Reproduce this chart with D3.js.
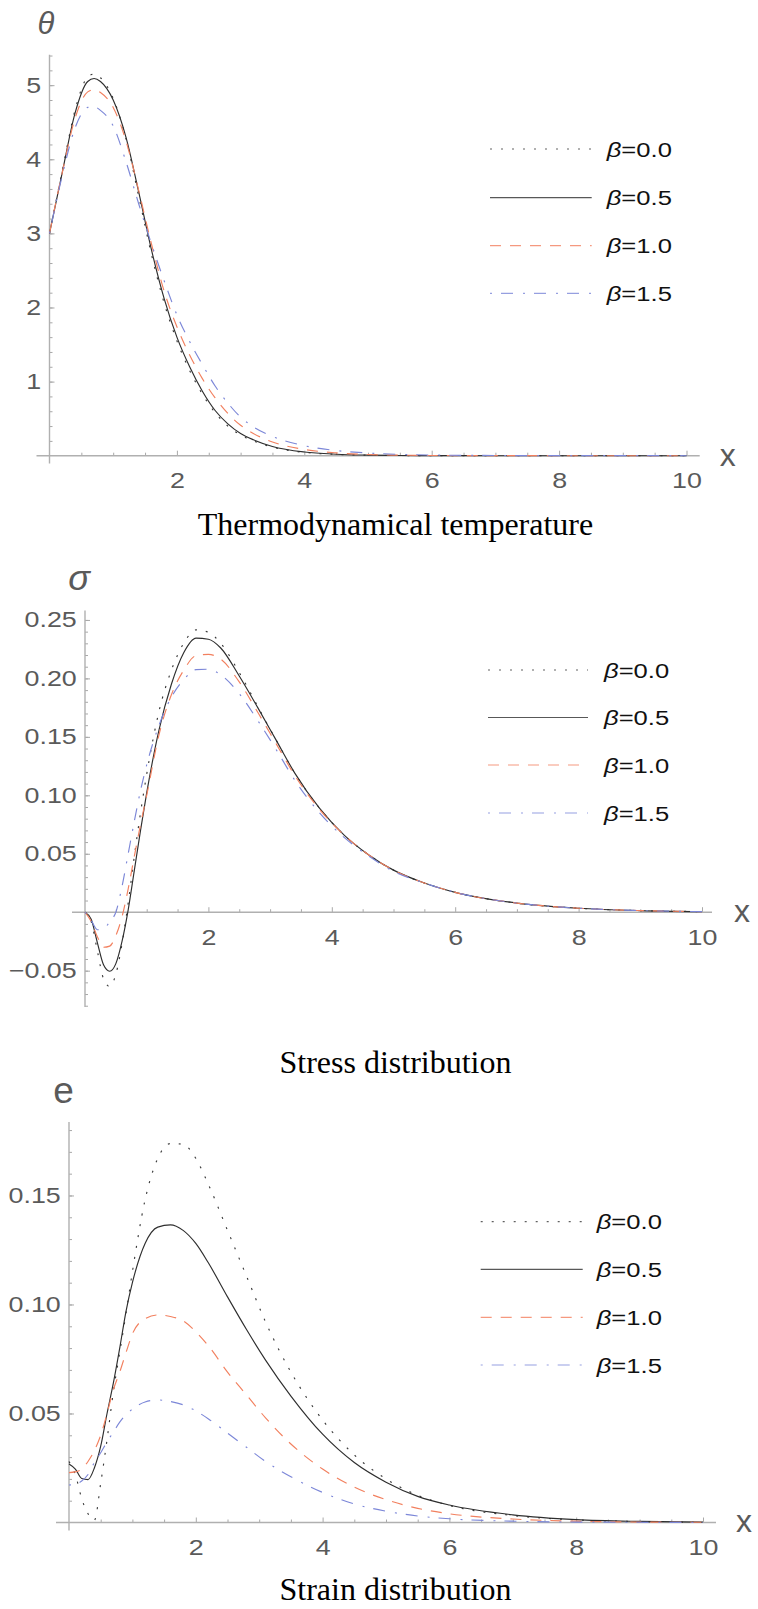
<!DOCTYPE html>
<html>
<head>
<meta charset="utf-8">
<script src="https://cdn.jsdelivr.net/npm/d3@7"></script>
<style>
body { margin: 0; background: #ffffff; }
svg { display: block; }
</style>
</head>
<body>
<svg id="chart" width="758" height="1609"></svg>
<script>
'use strict';

	// values (x positions, then one array per beta)
	var arrayBetaLabels = ['0.0','0.5','1.0','1.5'];

	var arrayThetaX = [0,0.2,0.4,0.6,0.7,0.8,1.0,1.2,1.4,1.6,1.8,2.0,2.2,2.4,2.6,2.8,3.0,3.2,3.5,4.0,4.5,5.0,5.5,6.0,7.0,8.0,10.0];
	var arrayThetaBeta00 = [3.0,3.84,4.66,5.11,5.15,5.10,4.82,4.28,3.50,2.72,2.06,1.55,1.15,0.83,0.58,0.40,0.28,0.20,0.115,0.045,0.018,0.007,0.002,0.001,0,0,0];
	var arrayThetaBeta05 = [3.0,3.82,4.62,5.05,5.09,5.05,4.80,4.30,3.56,2.78,2.12,1.60,1.20,0.87,0.61,0.43,0.30,0.215,0.125,0.05,0.02,0.008,0.003,0.001,0,0,0];
	var arrayThetaBeta10 = [3.0,3.82,4.55,4.91,4.94,4.90,4.70,4.25,3.58,2.86,2.22,1.74,1.36,1.04,0.78,0.57,0.41,0.30,0.185,0.085,0.038,0.016,0.007,0.003,0.001,0,0];
	var arrayThetaBeta15 = [3.0,3.78,4.42,4.70,4.71,4.66,4.45,3.97,3.40,2.86,2.36,1.90,1.54,1.23,0.94,0.71,0.52,0.39,0.26,0.135,0.07,0.036,0.018,0.009,0.003,0.001,0];

	var arrayStressX = [0,0.1,0.2,0.3,0.4,0.5,0.6,0.7,0.8,0.9,1.0,1.2,1.4,1.6,1.8,2.0,2.2,2.5,2.8,3.1,3.4,3.8,4.2,4.6,5.0,5.5,6.0,7.0,8.0,9.0,10.0];
	var arrayStressBeta00 = [0,-0.008,-0.033,-0.057,-0.0635,-0.053,-0.027,0.008,0.048,0.085,0.118,0.172,0.207,0.230,0.2415,0.2395,0.230,0.205,0.176,0.147,0.119,0.089,0.066,0.049,0.036,0.025,0.017,0.0078,0.0034,0.0014,0.0005];
	var arrayStressBeta05 = [0,-0.006,-0.026,-0.045,-0.0505,-0.044,-0.025,0.002,0.036,0.070,0.102,0.156,0.195,0.222,0.2345,0.2335,0.226,0.202,0.175,0.147,0.119,0.089,0.066,0.049,0.036,0.025,0.017,0.0078,0.0034,0.0014,0.0005];
	var arrayStressBeta10 = [0,-0.008,-0.021,-0.030,-0.029,-0.020,-0.004,0.020,0.048,0.075,0.100,0.152,0.186,0.207,0.2195,0.2205,0.2165,0.197,0.171,0.144,0.117,0.088,0.066,0.049,0.036,0.025,0.017,0.0078,0.0034,0.0014,0.0005];
	var arrayStressBeta15 = [0,-0.007,-0.015,-0.0145,-0.008,0.0,0.022,0.050,0.078,0.104,0.126,0.160,0.184,0.199,0.2075,0.2078,0.203,0.187,0.164,0.139,0.113,0.085,0.064,0.048,0.035,0.025,0.017,0.0078,0.0034,0.0014,0.0005];

	var arrayStrainX = [0,0.1,0.2,0.3,0.4,0.5,0.6,0.7,0.8,0.9,1.0,1.2,1.4,1.6,1.8,2.0,2.2,2.5,2.8,3.1,3.5,4.0,4.5,5.0,5.5,6.0,7.0,8.0,9.0,10.0];
	var arrayStrainBeta00 = [0.028,0.022,0.011,0.004,0.001,0.018,0.038,0.060,0.078,0.096,0.115,0.148,0.167,0.1738,0.1735,0.167,0.155,0.134,0.113,0.092,0.069,0.047,0.031,0.020,0.0125,0.0078,0.0032,0.0012,0.0004,0.0001];
	var arrayStrainBeta05 = [0.0268,0.0245,0.0202,0.0197,0.025,0.035,0.050,0.064,0.080,0.097,0.110,0.128,0.1355,0.1365,0.134,0.128,0.119,0.1035,0.0885,0.0745,0.058,0.0405,0.0275,0.0185,0.012,0.008,0.0035,0.0013,0.0005,0.0002];
	var arrayStrainBeta10 = [0.0229,0.0232,0.0245,0.028,0.033,0.040,0.050,0.061,0.069,0.078,0.0865,0.0935,0.0952,0.0945,0.0925,0.0875,0.081,0.069,0.0585,0.048,0.036,0.0245,0.0162,0.0105,0.0065,0.004,0.0016,0.0006,0.0002,0.0001];
	var arrayStrainBeta15 = [0.0172,0.0176,0.019,0.022,0.0275,0.032,0.037,0.0415,0.046,0.0495,0.052,0.0553,0.0562,0.0555,0.054,0.0512,0.0475,0.041,0.0345,0.028,0.021,0.0138,0.0085,0.0052,0.003,0.0017,0.0006,0.0002,0.0001,0];

	// tick labels
	var arrayXTicks = [2,4,6,8,10];
	var arrayThetaTicks = [1,2,3,4,5];
	var arrayStressTicks = [-0.05,0.05,0.10,0.15,0.20,0.25];
	var arrayStrainTicks = [0.05,0.10,0.15];

	// line look per beta (same order as arrayBetaLabels)
	var arrayLineStyles = [
		{ color: '#3a3a3a', dash: '2,9' },
		{ color: '#2e2e2e', dash: null },
		{ color: '#f2805f', dash: '11,9' },
		{ color: '#7c87d8', dash: '2,9,12,10' }
	];

	var fTextStretch = 1.22;
	var strSans = '"Liberation Sans", Arial, sans-serif';
	var strSerif = '"Liberation Serif", "Times New Roman", serif';

	var arrayPanels = [
		{
			x: arrayThetaX,
			series: [arrayThetaBeta00,arrayThetaBeta05,arrayThetaBeta10,arrayThetaBeta15],
			rangeX: [49.5,686.5],
			domainY: [0,5.41],
			rangeY: [455.7,54.8],
			axisX: [36.5,699.7],
			axisYBottom: 463.5,
			ticksY: arrayThetaTicks,
			minorY: [0.2,5.4,0.2],
			formatY: d3.format('d'),
			labelY: '\u03b8', labelYItalic: true, labelYSize: 31, labelYPos: [46,34],
			labelXPos: [719.7,456.7],
			legendX: [490,591.7,606.7],
			legendRows: [149,197.7,245.7,293.3],
			title: 'Thermodynamical temperature',
			titleY: 535
		},
		{
			x: arrayStressX,
			series: [arrayStressBeta00,arrayStressBeta05,arrayStressBeta10,arrayStressBeta15],
			rangeX: [85,702],
			domainY: [-0.081,0.258],
			rangeY: [1006.9,610.6],
			axisX: [72,712],
			axisYBottom: 1006.9,
			ticksY: arrayStressTicks,
			minorY: [-0.08,0.25,0.01],
			formatY: d3.format('.2f'),
			labelY: '\u03c3', labelYItalic: true, labelYSize: 36, labelYPos: [79,590],
			labelXPos: [734,912.2],
			legendX: [488,588,604],
			legendRows: [670,717.5,765,813],
			title: 'Stress distribution',
			titleY: 1073
		},
		{
			x: arrayStrainX,
			series: [arrayStrainBeta00,arrayStrainBeta05,arrayStrainBeta10,arrayStrainBeta15],
			rangeX: [69,703],
			domainY: [0,0.1837],
			rangeY: [1522.5,1122],
			axisX: [56,716],
			axisYBottom: 1530.5,
			ticksY: arrayStrainTicks,
			minorY: [0.01,0.18,0.01],
			formatY: d3.format('.2f'),
			labelY: 'e', labelYItalic: false, labelYSize: 37, labelYPos: [63.5,1103],
			labelXPos: [736,1522.5],
			legendX: [480.7,582.7,596.7],
			legendRows: [1221.7,1269.3,1317.3,1365],
			title: 'Strain distribution',
			titleY: 1600
		}
	];

	function StyleAxis(gAxis,bLabels)
	{
		gAxis.select('.domain').remove();
		gAxis.attr('color','#a8a8a8');
		gAxis.selectAll('.tick line').attr('stroke-width',1);
		if (bLabels)
		{
			gAxis.attr('font-size',22).attr('font-family',strSans);
			gAxis.selectAll('text')
				.attr('fill','#5a5a5a')
				.attr('transform','scale('+fTextStretch+',1)');
		}
	}

	function RenderPanel(svgRoot,aPanel)
	{
		var gPanel = svgRoot.append('g');

		var scaleX = d3.scaleLinear().domain([0,10]).range(aPanel.rangeX);
		var scaleY = d3.scaleLinear().domain(aPanel.domainY).range(aPanel.rangeY);
		var fOriginX = scaleX(0);
		var fOriginY = scaleY(0);

		// minor ticks, no labels
		var arrayMinorX = d3.range(0.5,10.01,0.5).filter(function(f) { return Math.abs(f % 2) > 0.01; });
		var arrayMinorY = d3.range(aPanel.minorY[0],aPanel.minorY[1]+aPanel.minorY[2]/2,aPanel.minorY[2])
			.filter(function(f) { return Math.abs(f) > 1e-6; });

		gPanel.append('g')
			.attr('transform','translate(0,'+fOriginY+')')
			.call(d3.axisBottom(scaleX).tickValues(arrayMinorX).tickSizeInner(-3).tickSizeOuter(0).tickFormat(''))
			.call(function(g) { StyleAxis(g,false); });

		gPanel.append('g')
			.attr('transform','translate('+fOriginX+',0)')
			.call(d3.axisLeft(scaleY).tickValues(arrayMinorY).tickSizeInner(-3).tickSizeOuter(0).tickFormat(''))
			.call(function(g) { StyleAxis(g,false); });

		// major ticks with labels
		gPanel.append('g')
			.attr('transform','translate(0,'+fOriginY+')')
			.call(d3.axisBottom(scaleX).tickValues(arrayXTicks).tickSizeInner(-5).tickSizeOuter(0).tickPadding(17).tickFormat(d3.format('d')))
			.call(function(g) { StyleAxis(g,true); });

		gPanel.append('g')
			.attr('transform','translate('+fOriginX+',0)')
			.call(d3.axisLeft(scaleY).tickValues(aPanel.ticksY).tickSizeInner(-5).tickSizeOuter(0).tickPadding(6.8).tickFormat(aPanel.formatY))
			.call(function(g) { StyleAxis(g,true); });

		// axis lines cross at the origin
		gPanel.append('line')
			.attr('x1',aPanel.axisX[0]).attr('x2',aPanel.axisX[1])
			.attr('y1',fOriginY).attr('y2',fOriginY)
			.attr('stroke','#b0b0b0').attr('stroke-width',1.4);
		gPanel.append('line')
			.attr('x1',fOriginX).attr('x2',fOriginX)
			.attr('y1',scaleY(aPanel.domainY[1])).attr('y2',aPanel.axisYBottom)
			.attr('stroke','#b0b0b0').attr('stroke-width',1.4);

		// axis names
		gPanel.append('text')
			.attr('x',aPanel.labelYPos[0]).attr('y',aPanel.labelYPos[1])
			.attr('text-anchor','middle')
			.attr('font-family',strSans)
			.attr('font-size',aPanel.labelYSize)
			.attr('font-style',aPanel.labelYItalic ? 'italic' : 'normal')
			.attr('fill','#5a5a5a')
			.text(aPanel.labelY);

		gPanel.append('text')
			.attr('x',aPanel.labelXPos[0]).attr('y',aPanel.labelXPos[1])
			.attr('dy','0.3em')
			.attr('font-family',strSans)
			.attr('font-size',32)
			.attr('fill','#5a5a5a')
			.text('x');

		// curves
		var lineCurve = d3.line()
			.x(function(d) { return scaleX(d[0]); })
			.y(function(d) { return scaleY(d[1]); })
			.curve(d3.curveMonotoneX);

		aPanel.series.forEach(function(arrayValues,nIndex)
		{
			var aStyle = arrayLineStyles[nIndex];
			var arrayPoints = aPanel.x.map(function(fX,i) { return [fX,arrayValues[i]]; });
			gPanel.append('path')
				.datum(arrayPoints)
				.attr('d',lineCurve)
				.attr('fill','none')
				.attr('stroke',aStyle.color)
				.attr('stroke-width',1.15)
				.attr('stroke-dasharray',aStyle.dash)
				.attr('stroke-linejoin','round');
		});

		// legend
		aPanel.series.forEach(function(arrayValues,nIndex)
		{
			var aStyle = arrayLineStyles[nIndex];
			var fRowY = aPanel.legendRows[nIndex];
			gPanel.append('line')
				.attr('x1',aPanel.legendX[0]).attr('x2',aPanel.legendX[1])
				.attr('y1',fRowY).attr('y2',fRowY)
				.attr('stroke',aStyle.color)
				.attr('stroke-opacity',0.8)
				.attr('stroke-width',1.2)
				.attr('stroke-dasharray',aStyle.dash);

			var textLegend = gPanel.append('text')
				.attr('transform','translate('+aPanel.legendX[2]+','+fRowY+') scale('+fTextStretch+',1)')
				.attr('dy','0.36em')
				.attr('font-family',strSans)
				.attr('font-size',21)
				.attr('fill','#111111');
			textLegend.append('tspan').attr('font-style','italic').text('\u03b2');
			textLegend.append('tspan').text('='+arrayBetaLabels[nIndex]);
		});

		// caption under the plot
		gPanel.append('text')
			.attr('x',395.5).attr('y',aPanel.titleY)
			.attr('text-anchor','middle')
			.attr('font-family',strSerif)
			.attr('font-size',32)
			.attr('fill','#000000')
			.text(aPanel.title);
	}

	var svgChart = d3.select('#chart');
	svgChart.append('rect').attr('width',758).attr('height',1609).attr('fill','#ffffff');
	arrayPanels.forEach(function(aPanel)
	{
		RenderPanel(svgChart,aPanel);
	});
</script>
</body>
</html>
